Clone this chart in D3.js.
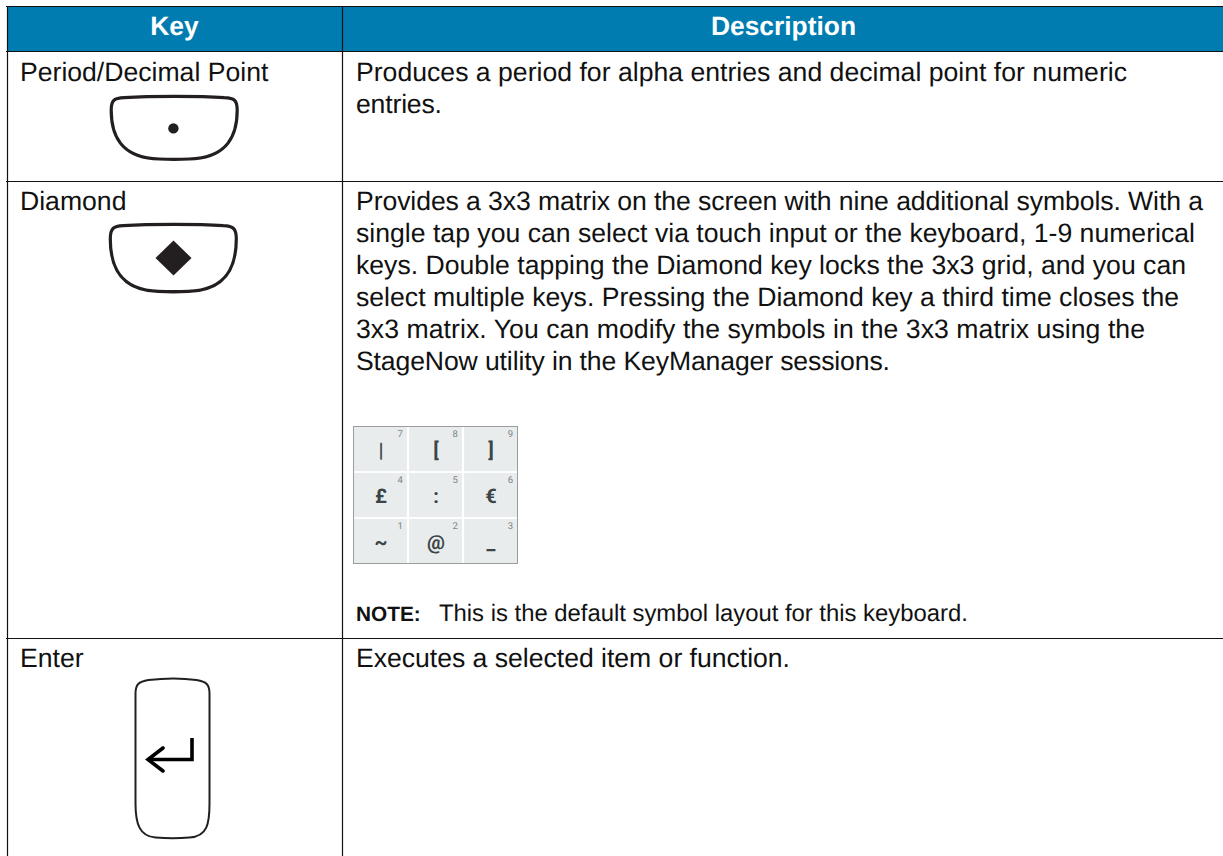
<!DOCTYPE html>
<html>
<head>
<meta charset="utf-8">
<script src="https://cdn.jsdelivr.net/npm/d3@7"></script>
<style>
html, body { margin: 0; padding: 0; background: #fff; overflow: hidden; }
text { font-family: "Liberation Sans", Arial, sans-serif; text-rendering: geometricPrecision; }
</style>
</head>
<body>
<div id="table"></div>
<script>
const width = 1223, height = 856;

const headers = ["Key", "Description"];
const keyNames = ["Period/Decimal Point", "Diamond", "Enter"];
const keyIcons = ["period", "diamond", "enter"];
const descriptions = [
    ["Produces a period for alpha entries and decimal point for numeric", "entries."],
    ["Provides a 3x3 matrix on the screen with nine additional symbols. With a",
     "single tap you can select via touch input or the keyboard, 1-9 numerical",
     "keys. Double tapping the Diamond key locks the 3x3 grid, and you can",
     "select multiple keys. Pressing the Diamond key a third time closes the",
     "3x3 matrix. You can modify the symbols in the 3x3 matrix using the",
     "StageNow utility in the KeyManager sessions."],
    ["Executes a selected item or function."]
];
// measured line widths, the source was set with slightly uneven word spacing
const descriptionWidths = [
    [771, 86],
    [847, 839, 830, 823, 789, 534],
    [434]
];
const gridSymbols = ["|", "[", "]", "£", ":", "€", "~", "@", "_"];
const gridDigits = ["7", "8", "9", "4", "5", "6", "1", "2", "3"];
const noteLabel = "NOTE:";
const noteText = "This is the default symbol layout for this keyboard.";

// table rules, in page pixels
const columnEdges = [7, 342, 1223];
const rowEdges = [6, 51, 181, 638, 856];
const rowBaselines = [80.5, 210, 667];

const svg = d3.select("#table")
    .append("svg")
    .attr("width", width)
    .attr("height", height)
    .style("display", "block")
;

// header band
svg.append("rect")
    .attr("x", columnEdges[0])
    .attr("y", rowEdges[0])
    .attr("width", width - columnEdges[0])
    .attr("height", rowEdges[1] - rowEdges[0])
    .style("fill", "#007cb0")
;

svg.selectAll("text.header")
    .data(headers)
    .enter()
    .append("text")
    .attr("class", "header")
    .attr("x", (d, i) => (columnEdges[i] + columnEdges[i + 1]) / 2 + (i ? 1 : 0))
    .attr("y", 35)
    .attr("text-anchor", "middle")
    .style("font-size", "26.4px")
    .style("font-weight", "bold")
    .style("fill", "#fff")
    .text(d => d)
;

// rules
const rules = svg.append("g")
    .style("stroke", "#111")
    .style("stroke-width", 1.2)
;
rules.selectAll("line.row")
    .data(rowEdges.slice(0, 4))
    .enter()
    .append("line")
    .attr("class", "row")
    .attr("x1", 6)
    .attr("x2", width)
    .attr("y1", d => d + 0.5)
    .attr("y2", d => d + 0.5)
;
rules.selectAll("line.col")
    .data(columnEdges.slice(0, 2))
    .enter()
    .append("line")
    .attr("class", "col")
    .attr("x1", d => d + 0.5)
    .attr("x2", d => d + 0.5)
    .attr("y1", rowEdges[0])
    .attr("y2", height)
;

// body text
const bodySize = "26.6px";
const lineHeight = 32;

svg.selectAll("text.key")
    .data(keyNames)
    .enter()
    .append("text")
    .attr("class", "key")
    .attr("x", 20)
    .attr("y", (d, i) => rowBaselines[i])
    .style("font-size", bodySize)
    .style("fill", "#111")
    .text(d => d)
;

descriptions.forEach(function (lines, i) {
    svg.selectAll("text.desc" + i)
        .data(lines)
        .enter()
        .append("text")
        .attr("class", "desc" + i)
        .attr("x", 356)
        .attr("y", (d, j) => rowBaselines[i] + j * lineHeight)
        .attr("textLength", (d, j) => descriptionWidths[i][j])
        .attr("lengthAdjust", "spacing")
        .style("font-size", bodySize)
        .style("fill", "#111")
        .text(d => d)
    ;
});

// key icons, paths are in page pixels relative to the icon group
const capPath = "M0,13 C0,3 3,1 13,0.6 C40,-1 88,-1 113,0.6 C123,1 126,3 126,13 C126,38 117,61 78,62 C68,62.6 58,62.6 48,62 C9,61 0,38 0,13 Z";
const enterPath = "M1,15 C1,6 4,3 14,1.5 C30,-0.5 48,-0.5 62,1.5 C72,3 75,6 75,15 L75,125 C75,145 73,158 55,159 C45,160 32,160 21,159 C5,158 1,145 1,125 Z";

function drawCap(x, y, path, sw, sy) {
    return svg.append("path")
        .attr("transform", "translate(" + x + "," + y + ") scale(1," + sy + ")")
        .attr("d", path)
        .style("fill", "none")
        .style("stroke", "#231f20")
        .style("stroke-width", sw)
    ;
}

keyIcons.forEach(function (icon) {
    if (icon === "period") {
        drawCap(111.2, 97, capPath, 3.2, 1);
        svg.append("circle")
            .attr("cx", 173.4)
            .attr("cy", 128.4)
            .attr("r", 5.2)
            .style("fill", "#231f20")
        ;
    } else if (icon === "diamond") {
        drawCap(110.3, 225, capPath, 3.2, 1.07);
        svg.append("path")
            .attr("d", d3.line()([[173.5, 240.5], [191.5, 258], [173.5, 275.5], [155.5, 258]]) + "Z")
            .style("fill", "#231f20")
        ;
    } else {
        drawCap(134.5, 678.5, enterPath, 2, 1);
        svg.append("path")
            .attr("d", d3.line()([[192, 738], [192, 759.5], [149, 759.5]]))
            .style("fill", "none")
            .style("stroke", "#000")
            .style("stroke-width", 3.6)
        ;
        svg.append("path")
            .attr("d", d3.line()([[163, 748], [148, 759.5], [163, 771]]))
            .style("fill", "none")
            .style("stroke", "#000")
            .style("stroke-width", 3.6)
            .style("stroke-linecap", "round")
        ;
    }
});

// 3x3 symbol grid
const gridLeft = 353, gridTop = 426, gridWidth = 165, gridHeight = 138;
const gridX = d3.scaleBand().domain([0, 1, 2]).range([gridLeft + 1, gridLeft + gridWidth - 1]).paddingInner(0.04);
const gridY = d3.scaleBand().domain([0, 1, 2]).range([gridTop + 1, gridTop + gridHeight - 1]).paddingInner(0.04);

svg.append("rect")
    .attr("x", gridLeft + 0.5)
    .attr("y", gridTop + 0.5)
    .attr("width", gridWidth - 1)
    .attr("height", gridHeight - 1)
    .style("fill", "#fff")
    .style("stroke", "#9a9c9e")
;

const cells = svg.selectAll("g.cell")
    .data(gridSymbols)
    .enter()
    .append("g")
    .attr("class", "cell")
    .attr("transform", (d, i) => "translate(" + gridX(i % 3) + "," + gridY(Math.floor(i / 3)) + ")")
;
cells.append("rect")
    .attr("width", gridX.bandwidth())
    .attr("height", gridY.bandwidth())
    .style("fill", "#e8ecec")
;
cells.append("text")
    .attr("x", gridX.bandwidth() / 2 + 0.5)
    .attr("y", 30)
    .attr("text-anchor", "middle")
    .style("font-family", "Roboto, sans-serif")
    .style("font-size", "20px")
    .style("font-weight", "bold")
    .style("fill", "#3c4548")
    .text(d => d)
;
cells.append("text")
    .data(gridDigits)
    .attr("x", gridX.bandwidth() - 4)
    .attr("y", 10)
    .attr("text-anchor", "end")
    .style("font-family", "Roboto, sans-serif")
    .style("font-size", "9.5px")
    .style("fill", "#7b8386")
    .text(d => d)
;

// note
svg.append("text")
    .attr("x", 356)
    .attr("y", 621)
    .style("font-size", "20.8px")
    .style("font-weight", "bold")
    .style("fill", "#111")
    .text(noteLabel)
;
svg.append("text")
    .attr("x", 439)
    .attr("y", 621)
    .style("font-size", "23.85px")
    .style("fill", "#111")
    .text(noteText)
;
</script>
</body>
</html>
